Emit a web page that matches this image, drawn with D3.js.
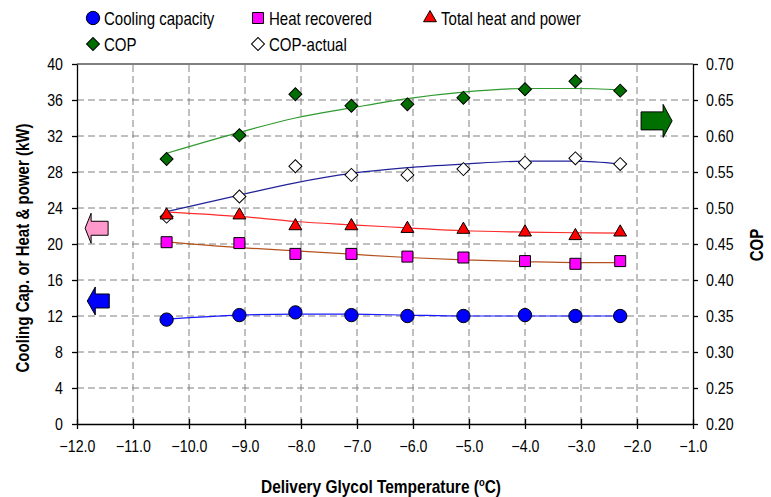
<!DOCTYPE html>
<html>
<head>
<meta charset="utf-8">
<script src="https://cdn.jsdelivr.net/npm/d3@7"></script>
<style>
  body { margin: 0; background: #fff; }
  text { font-family: "Liberation Sans", Arial, sans-serif; fill: #000; }
</style>
</head>
<body>
<div id="chart"></div>
<script>
// glycol delivery temperature (deg C)
const temps = [-10.4, -9.1, -8.1, -7.1, -6.1, -5.1, -4.0, -3.1, -2.3];

// kW series (left axis)
const coolingCap = [11.6, 12.1, 12.4, 12.1, 12.0, 12.0, 12.1, 12.0, 12.0];
const heatRecovered = [20.2, 20.1, 18.9, 18.9, 18.6, 18.5, 18.1, 17.8, 18.1];
const totalHeatPower = [23.2, 23.2, 22.0, 22.0, 21.7, 21.6, 21.3, 20.9, 21.3];

// COP series (right axis)
const cop = [0.568, 0.601, 0.658, 0.642, 0.644, 0.653, 0.665, 0.676, 0.663];
const copActual = [0.488, 0.516, 0.558, 0.546, 0.546, 0.554, 0.563, 0.569, 0.561];

// trendlines as drawn in the original
const coolingTrend = [11.65, 12.1, 12.2, 12.2, 12.1, 12.0, 12.0, 12.0, 12.0];
const heatTrend = [20.24, 19.6, 19.24, 18.87, 18.5, 18.24, 18.05, 17.94, 17.94];
const totalTrend = [23.55, 23.06, 22.5, 22.13, 21.8, 21.47, 21.32, 21.25, 21.21];
const copTrend = [0.576, 0.605, 0.625, 0.639, 0.652, 0.661, 0.666, 0.666, 0.664];
const copActualTrend = [0.495, 0.518, 0.535, 0.548, 0.556, 0.561, 0.565, 0.565, 0.561];

// axis ticks
const xTicks = d3.range(-12, -0.5, 1);
const leftTicks = d3.range(0, 41, 4);
const rightTicks = [0.20, 0.25, 0.30, 0.35, 0.40, 0.45, 0.50, 0.55, 0.60, 0.65, 0.70];

const width = 771, height = 497;
const margin = { top: 64, right: 78, bottom: 73, left: 77 };
const sx = 0.86; // horizontal squeeze, the original uses a narrow font

const svg = d3.select("#chart").append("svg")
  .attr("width", width).attr("height", height);

const x = d3.scaleLinear().domain([-12, -1]).range([margin.left, width - margin.right]);
const yL = d3.scaleLinear().domain([0, 40]).range([height - margin.bottom, margin.top]);
const yR = d3.scaleLinear().domain([0.20, 0.70]).range([height - margin.bottom, margin.top]);

//gridlines
const grid = svg.append("g").attr("stroke", "#808080").attr("stroke-dasharray", "7,4");
grid.selectAll(".vg").data(xTicks.slice(1, -1)).join("line")
  .attr("x1", d => x(d)).attr("x2", d => x(d))
  .attr("y1", yL(0)).attr("y2", yL(40));
grid.selectAll(".hg").data(leftTicks.slice(1, -1)).join("line")
  .attr("x1", x(-12)).attr("x2", x(-1))
  .attr("y1", d => yL(d)).attr("y2", d => yL(d));

// frame top line
svg.append("line").attr("x1", x(-12)).attr("x2", x(-1))
  .attr("y1", yL(40)).attr("y2", yL(40)).attr("stroke", "#000");

// axes
const fs = "16.5px";
const gx = svg.append("g").attr("transform", `translate(0,${yL(0)})`)
  .call(d3.axisBottom(x).tickValues(xTicks).tickFormat(d3.format(".1f")).tickSizeInner(5).tickSizeOuter(0).tickPadding(11));
gx.selectAll(".tick line").attr("y1", -5);
const gl = svg.append("g").attr("transform", `translate(${x(-12)},0)`)
  .call(d3.axisLeft(yL).tickValues(leftTicks).tickSizeInner(5).tickSizeOuter(0).tickPadding(9));
const gr = svg.append("g").attr("transform", `translate(${x(-1)},0)`)
  .call(d3.axisRight(yR).tickValues(rightTicks).tickFormat(d3.format(".2f")).tickSizeInner(5).tickSizeOuter(0).tickPadding(8));
[gx, gl, gr].forEach(g => {
  g.selectAll("text").style("font-size", fs).attr("font-family", null)
    .attr("x", function() { return (+d3.select(this).attr("x") || 0) / sx; })
    .attr("transform", `scale(${sx},1)`);
  g.selectAll("line, path").attr("stroke", "#000").attr("stroke-width", 1.3);
});
gx.select(".domain").attr("stroke-width", 1.5);

// axis titles
const tx = svg.append("text").attr("transform", `translate(381,493) scale(${sx},1)`)
  .attr("text-anchor", "middle").style("font-size", "18px").style("font-weight", "bold");
tx.append("tspan").text("Delivery Glycol Temperature (");
tx.append("tspan").attr("dy", -7).style("font-size", "11px").text("o");
tx.append("tspan").attr("dy", 7).text("C)");
svg.append("text").attr("transform", `translate(29,248) rotate(-90) scale(${sx},1)`)
  .attr("text-anchor", "middle").style("font-size", "17.5px").style("font-weight", "bold")
  .text("Cooling Cap. or Heat & power (kW)");
svg.append("text").attr("transform", `translate(763,245) rotate(-90) scale(${sx},1)`)
  .attr("text-anchor", "middle").style("font-size", "17.5px").style("font-weight", "bold")
  .text("COP");

// trend lines
const trend = (vals, yScale, color) => {
  svg.append("path")
    .datum(temps.map((t, i) => [t, vals[i]]))
    .attr("fill", "none").attr("stroke", color).attr("stroke-width", 1.2)
    .attr("d", d3.line().x(d => x(d[0])).y(d => yScale(d[1])).curve(d3.curveMonotoneX));
};
trend(copTrend, yR, "#2f9a2f");
trend(copActualTrend, yR, "#22229a");
trend(totalTrend, yL, "#ff2a2a");
trend(heatTrend, yL, "#b4521e");
trend(coolingTrend, yL, "#1a1aff");

// markers
const sym = {
  circle: d3.symbol().type(d3.symbolCircle).size(140)(),
  square: d3.symbol().type(d3.symbolSquare).size(121)(),
  triangle: d3.symbol().type(d3.symbolTriangle).size(72)(),
  diamond: d3.symbol().type(d3.symbolSquare).size(84)()
};
const markers = (vals, yScale, shape, fill) => {
  svg.append("g").selectAll("path").data(vals).join("path")
    .attr("d", sym[shape])
    .attr("transform", (d, i) => `translate(${x(temps[i])},${yScale(d)})` + (shape === "diamond" ? " rotate(45)" : ""))
    .attr("fill", fill).attr("stroke", "#000").attr("stroke-width", 1);
};
markers(cop, yR, "diamond", "#006e00");
markers(copActual, yR, "diamond", "#fff");
markers(totalHeatPower, yL, "triangle", "#ff0000");
markers(heatRecovered, yL, "square", "#ff00ff");
markers(coolingCap, yL, "circle", "#0000ff");

// block arrows showing which axis applies
const arrow = (cx, cy, dir, bodyLen, bodyH, headLen, headH, fill) => {
  const total = bodyLen + headLen;
  const s = dir; // 1 = right, -1 = left
  const x0 = cx - s * total / 2, xb = x0 + s * bodyLen, xt = x0 + s * total;
  const pts = [[x0, cy - bodyH / 2], [xb, cy - bodyH / 2], [xb, cy - headH / 2], [xt, cy],
               [xb, cy + headH / 2], [xb, cy + bodyH / 2], [x0, cy + bodyH / 2]];
  svg.append("path").attr("d", "M" + pts.join("L") + "Z")
    .attr("fill", fill).attr("stroke", "#000").attr("stroke-width", 1);
};
arrow(x(-11.65), yL(21.75), -1, 17, 14, 6, 30, "#ff99cc");
arrow(x(-11.62), yL(13.67), -1, 14, 14, 8, 28, "#0000ff");
arrow(x(-1.65), yR(0.621), 1, 22, 18, 9, 33, "#007000");

// legend
const legendItems = [
  { label: "Cooling capacity", shape: "circle", fill: "#0000ff", lx: 93, ly: 18 },
  { label: "Heat recovered", shape: "square", fill: "#ff00ff", lx: 258, ly: 18 },
  { label: "Total heat and power", shape: "triangle", fill: "#ff0000", lx: 430, ly: 18 },
  { label: "COP", shape: "diamond", fill: "#006e00", lx: 93, ly: 44 },
  { label: "COP-actual", shape: "diamond", fill: "#fff", lx: 258, ly: 44 }
];
const lg = svg.append("g").selectAll("g").data(legendItems).join("g")
  .attr("transform", d => `translate(${d.lx},${d.ly})`);
lg.append("path")
  .attr("d", d => sym[d.shape])
  .attr("transform", d => d.shape === "diamond" ? "rotate(45)" : null)
  .attr("fill", d => d.fill).attr("stroke", "#000").attr("stroke-width", 1);
lg.append("text").attr("transform", `translate(11,6.5) scale(${sx},1)`)
  .style("font-size", "17.5px").text(d => d.label);
</script>
</body>
</html>
